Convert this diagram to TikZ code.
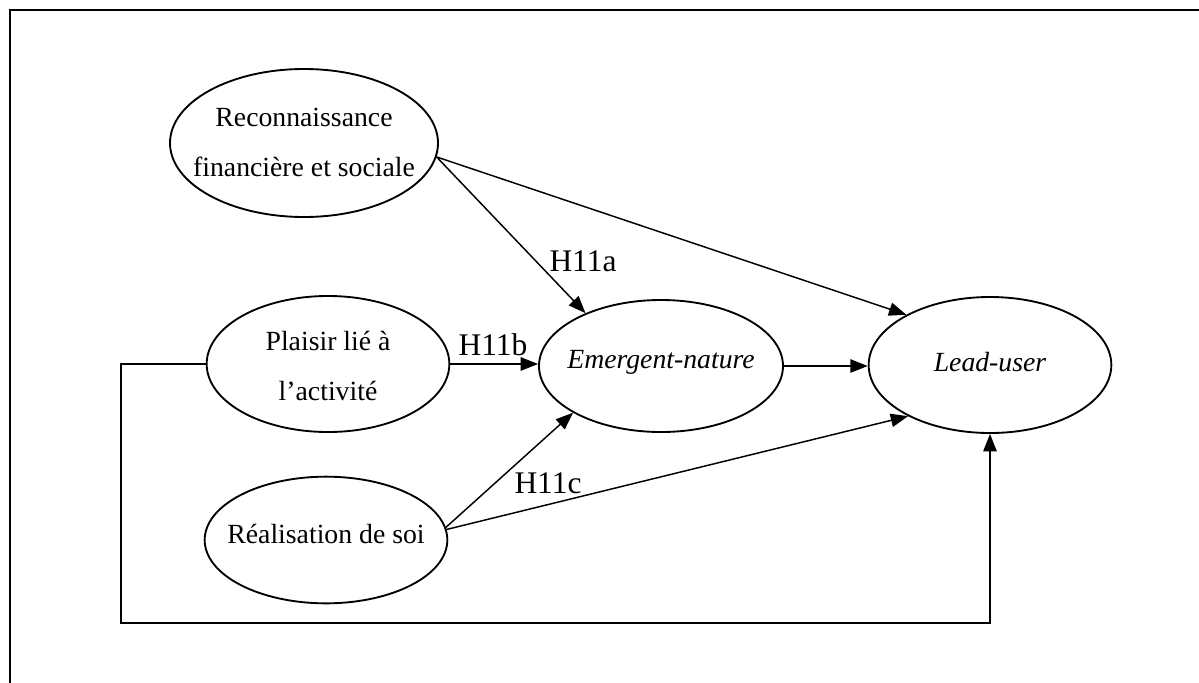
\documentclass[tikz,border=0pt]{standalone}
\usepackage{fontspec}
\setmainfont{Liberation Serif}
\usetikzlibrary{arrows.meta,shapes.geometric}
\tikzset{
  var/.style={draw, ellipse, line width=1.4pt, inner sep=0pt},
  txt/.style={inner sep=0pt, align=center, font=\fontsize{20.8}{37.5}\selectfont},
  arr/.style={line width=1.1pt, -{Triangle[length=13pt,width=10pt]}},
  lab/.style={anchor=base, inner sep=0pt, font=\fontsize{23.6}{28}\selectfont},
  frame/.style={line width=1.2pt}
}
\begin{document}
\begin{tikzpicture}[x=0.75pt,y=-0.75pt]
\useasboundingbox (0,0) rectangle (1199,682);
\clip (0,0) rectangle (1199,682);
\draw[frame] (10,700) -- (10,10) -- (1210,10);

\node[var, minimum width=201pt, minimum height=111pt] (rec) at (304,143) {};
\node[var, minimum width=182pt, minimum height=102pt] (pla) at (328,364) {};
\node[var, minimum width=182pt, minimum height=95pt] (rea) at (326,540) {};
\node[var, minimum width=183pt, minimum height=99pt] (em) at (661,366) {};
\node[var, minimum width=182pt, minimum height=102pt] (lead) at (990,365) {};

\node[txt] (rect) at (304,142) {Reconnaissance\\financière et sociale};
\node[txt] (plat) at (328,366) {Plaisir lié à\\l’activité};
\node[txt] (reat) at (326,534) {Réalisation de soi};
\node[txt] (emt) at (661,362) {\itshape Emergent-nature};
\node[txt] (leadt) at (990,362) {\itshape Lead-user};

\coordinate (fb) at (121,623);

\draw[arr] (rec.-6) -- (em.145);
\draw[arr] (rec.-6) -- (lead.149);
\draw[arr] (pla.east) -- (pla.east -| em.west);
\draw[arr] (em.east) -- (em.east -| lead.west);
\draw[arr] (rea.6) -- (em.208);
\draw[arr] (rea.5) -- (lead.212);
\draw[arr] (pla.west) -| (fb) -| (lead.south);

\node[lab] (h11a) at (583,271) {H11a};
\node[lab] (h11b) at (493,355) {H11b};
\node[lab] (h11c) at (548,493) {H11c};
\end{tikzpicture}
\end{document}
